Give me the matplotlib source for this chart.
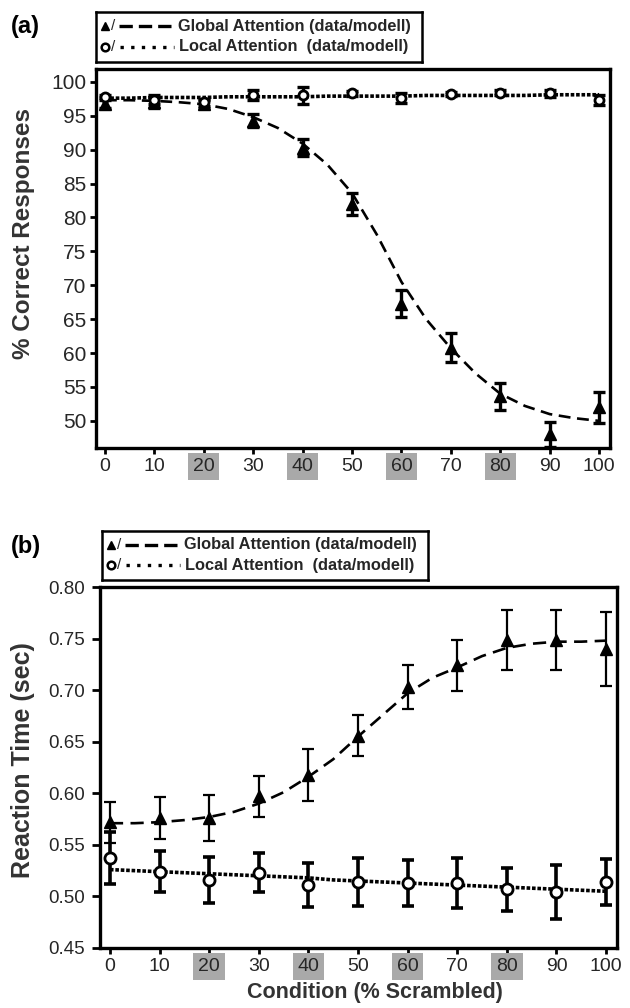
import matplotlib
matplotlib.use("Agg")
import matplotlib.pyplot as plt

plt.rcParams['font.family'] = ['Liberation Sans', 'DejaVu Sans']

# conditions (% scrambled)
cond = [0, 10, 20, 30, 40, 50, 60, 70, 80, 90, 100]
fit_x = [0, 5, 10, 15, 20, 25, 30, 35, 40, 45, 50, 55, 60, 65, 70, 75, 80, 85, 90, 95, 100]

# (a) % correct responses
a_global = [96.8, 97.0, 96.8, 94.3, 90.3, 82.0, 67.3, 60.8, 53.6, 48.0, 52.0]
a_global_err = [0.6, 0.8, 0.6, 0.9, 1.3, 1.6, 2.0, 2.1, 2.0, 1.8, 2.3]
a_local = [97.8, 97.4, 97.0, 98.1, 98.0, 98.3, 97.6, 98.2, 98.4, 98.3, 97.3]
a_local_err = [0.2, 0.7, 0.5, 0.7, 1.3, 0.4, 0.7, 0.3, 0.4, 0.5, 0.7]
a_global_fit = [97.3, 97.3, 97.2, 97.0, 96.7, 96.0, 94.8, 93.2, 90.9, 87.8, 83.6,
                77.5, 70.5, 65.0, 60.7, 57.0, 54.0, 52.2, 51.0, 50.4, 50.0]
a_local_fit = [97.6, 97.6, 97.7, 97.7, 97.7, 97.8, 97.8, 97.8, 97.8, 97.9, 97.9,
               97.9, 97.9, 98.0, 98.0, 98.0, 98.0, 98.0, 98.1, 98.1, 98.1]

# (b) reaction time (sec)
b_global = [0.572, 0.576, 0.576, 0.597, 0.618, 0.656, 0.703, 0.724, 0.749, 0.749, 0.740]
b_global_err = [0.020, 0.020, 0.022, 0.020, 0.025, 0.020, 0.021, 0.025, 0.029, 0.029, 0.036]
b_local = [0.537, 0.524, 0.516, 0.523, 0.511, 0.514, 0.513, 0.513, 0.507, 0.504, 0.514]
b_local_err = [0.025, 0.020, 0.022, 0.019, 0.021, 0.023, 0.022, 0.024, 0.021, 0.026, 0.022]
b_global_fit = [0.571, 0.571, 0.572, 0.574, 0.577, 0.582, 0.590, 0.601, 0.616, 0.633, 0.655,
                0.676, 0.697, 0.712, 0.722, 0.733, 0.741, 0.745, 0.747, 0.747, 0.748]
b_local_fit = [0.526, 0.525, 0.524, 0.523, 0.522, 0.521, 0.520, 0.519, 0.518, 0.516, 0.515,
               0.514, 0.513, 0.512, 0.511, 0.510, 0.509, 0.508, 0.507, 0.506, 0.505]

a_yticks = [50, 55, 60, 65, 70, 75, 80, 85, 90, 95, 100]
b_yticks = [0.45, 0.50, 0.55, 0.60, 0.65, 0.70, 0.75, 0.80]
shaded = [20, 40, 60, 80]

TXT = '#262626'
LAB = '#333333'
W, H = 630, 1008
fig = plt.figure(figsize=(W / 100, H / 100), dpi=100)


def px_axes(left, top, right, bottom):
    return fig.add_axes([left / W, 1 - bottom / H, (right - left) / W, (bottom - top) / H])


def style_axes(ax, ysize, xsize, ylen, ypad):
    for s in ax.spines.values():
        s.set_linewidth(2.4)
    ax.tick_params(axis='x', direction='out', length=4, width=2, pad=3)
    ax.tick_params(axis='y', direction='out', length=ylen, width=2, pad=ypad)
    ax.set_xticks(cond)
    ax.set_xticklabels([str(c) for c in cond])
    for lab in ax.get_xticklabels():
        lab.set_fontsize(xsize)
        lab.set_color(TXT)
        if int(lab.get_text()) in shaded:
            lab.set_bbox(dict(facecolor='#a9a9a9', edgecolor='none', pad=3.5))
    for lab in ax.get_yticklabels():
        lab.set_fontsize(ysize)
        lab.set_color(TXT)


def draw_panel(ax, g, gerr, l, lerr, gfit, lfit, glw, llw, gdash, circ):
    ax.plot(fit_x, gfit, color='black', lw=1.9, linestyle=(0, gdash), zorder=2)
    ax.plot(fit_x, lfit, color='black', lw=2.6, linestyle=(0, (1, 0.5)), zorder=2)
    ax.errorbar(cond, g, yerr=gerr, fmt='none', ecolor='black', elinewidth=glw,
                capsize=4.5, capthick=glw, zorder=3)
    ax.errorbar(cond, l, yerr=lerr, fmt='none', ecolor='black', elinewidth=llw,
                capsize=4.5, capthick=llw, zorder=3)
    ax.plot(cond, g, linestyle='none', marker='^', ms=8, color='black', zorder=4)
    ax.plot(cond, l, linestyle='none', marker='o', ms=circ, mfc='white', mec='black',
            mew=2, zorder=5)


def legend_box(left, top, right, bottom):
    lg = px_axes(left, top, right, bottom)
    lg.set_xlim(0, 1)
    lg.set_ylim(0, 1)
    lg.set_xticks([])
    lg.set_yticks([])
    for s in lg.spines.values():
        s.set_linewidth(1.8)
    lg.plot([0.028], [0.72], marker='^', ms=6, color='black', linestyle='none')
    lg.text(0.045, 0.72, '/', fontsize=11, va='center', ha='left', color=TXT)
    lg.plot([0.07, 0.24], [0.72, 0.72], color='black', lw=2.4, linestyle=(0, (4, 1.8)))
    lg.text(0.25, 0.72, 'Global Attention (data/modell)', fontsize=11.8, fontweight='bold',
            va='center', ha='left', color=TXT)
    lg.plot([0.028], [0.3], marker='o', ms=5.5, mfc='white', mec='black', mew=1.8, linestyle='none')
    lg.text(0.045, 0.3, '/', fontsize=11, va='center', ha='left', color=TXT)
    lg.plot([0.075, 0.24], [0.3, 0.3], color='black', lw=2.4, linestyle=(0, (1, 2.2)))
    lg.text(0.255, 0.3, 'Local Attention  (data/modell)', fontsize=11.8, fontweight='bold',
            va='center', ha='left', color=TXT)


# panel (a)
ax1 = px_axes(96, 69, 610, 448)
draw_panel(ax1, a_global, a_global_err, a_local, a_local_err,
           a_global_fit, a_local_fit, 2.4, 2.4, (4.5, 2.5), 6.5)
ax1.set_xlim(-1.8, 102.2)
ax1.set_ylim(46.0, 101.9)
ax1.set_yticks(a_yticks)
style_axes(ax1, 15, 14, 4, 3)
ax1.set_ylabel('% Correct Responses', fontsize=17.5, fontweight='bold', color=LAB)
ax1.yaxis.set_label_coords(-0.118, 0.565)
legend_box(96, 12, 422, 62)
fig.text(11 / W, 1 - 26 / H, '(a)', fontsize=17, fontweight='bold', va='center', ha='left')

# panel (b)
ax2 = px_axes(100, 587, 617, 948)
draw_panel(ax2, b_global, b_global_err, b_local, b_local_err,
           b_global_fit, b_local_fit, 1.6, 2.6, (5, 2.8), 8)
ax2.set_xlim(-2.0, 102.2)
ax2.set_ylim(0.45, 0.80)
ax2.set_yticks(b_yticks)
ax2.set_yticklabels([f'{v:.2f}' for v in b_yticks])
style_axes(ax2, 13.5, 14, 6, 5)
ax2.set_ylabel('Reaction Time (sec)', fontsize=18, fontweight='bold', color=LAB)
ax2.yaxis.set_label_coords(-0.126, 0.52)
ax2.set_xlabel('Condition (% Scrambled)', fontsize=15.5, fontweight='bold', color=LAB)
ax2.xaxis.set_label_coords(0.532, -0.093)
legend_box(102, 531, 428, 580)
fig.text(11 / W, 1 - 547 / H, '(b)', fontsize=17, fontweight='bold', va='center', ha='left')

fig.savefig('out.png', dpi=100)
